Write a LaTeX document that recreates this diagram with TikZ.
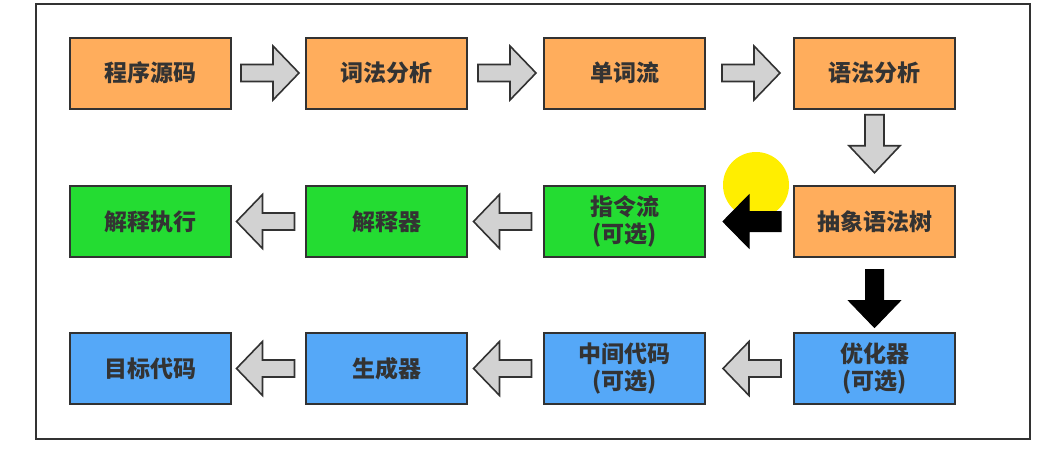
\documentclass[tikz,border=0pt]{standalone}
\usepackage{fontspec}
\newfontfamily\cjk{Noto Sans CJK SC}
\usetikzlibrary{calc}
\definecolor{orangeF}{RGB}{255,173,92}
\definecolor{greenF}{RGB}{36,220,50}
\definecolor{blueF}{RGB}{85,168,248}
\definecolor{grayF}{RGB}{210,210,210}
\definecolor{lineC}{RGB}{50,50,50}
\definecolor{textC}{RGB}{51,51,51}
\definecolor{yellowC}{RGB}{255,238,0}
% right-pointing block arrow: #1 from, #2 to, #3 style, #4 shift, #5 body half, #6 head half
\newcommand\blkR[6]{%
  \coordinate (m) at ($(#1.east)!0.5!(#2.west)+(#4,0)$);
  \draw[#3] ($(m)+(-29,-#5)$) -- ($(m)+(3,-#5)$) -- ($(m)+(3,-#6)$) -- ($(m)+(29,0)$)
    -- ($(m)+(3,#6)$) -- ($(m)+(3,#5)$) -- ($(m)+(-29,#5)$) -- cycle;}
\newcommand\blkL[6]{%
  \coordinate (m) at ($(#2.east)!0.5!(#1.west)+(#4,0)$);
  \draw[#3] ($(m)+(29,-#5)$) -- ($(m)+(-3,-#5)$) -- ($(m)+(-3,-#6)$) -- ($(m)+(-29,0)$)
    -- ($(m)+(-3,#6)$) -- ($(m)+(-3,#5)$) -- ($(m)+(29,#5)$) -- cycle;}
\newcommand\blkD[6]{%
  \coordinate (m) at ($(#1.south)!0.5!(#2.north)+(0,#4)$);
  \draw[#3] ($(m)+(-#5,-29)$) -- ($(m)+(-#5,2)$) -- ($(m)+(-#6,2)$) -- ($(m)+(0,29)$)
    -- ($(m)+(#6,2)$) -- ($(m)+(#5,2)$) -- ($(m)+(#5,-29)$) -- cycle;}
\begin{document}
\begin{tikzpicture}[x=1pt,y=-1pt,
  box/.style={draw=lineC,line width=2pt,minimum width=161pt,minimum height=71pt,
    inner sep=0pt,text=textC,align=center,
    font=\cjk\bfseries\fontsize{23}{27}\selectfont},
  obox/.style={box,fill=orangeF},
  gbox/.style={box,fill=greenF},
  bbox/.style={box,fill=blueF},
  garrow/.style={draw=lineC,line width=1.6pt,fill=grayF,line join=miter},
  karrow/.style={draw=black,line width=1pt,fill=black,line join=miter}]
\useasboundingbox (0,0) rectangle (1041,455);
\fill[white] (0,0) rectangle (1041,455);
\draw[lineC,line width=2pt] (36,4) rectangle (1030,439);
% row 1
\node[obox] (src) at (150.5,73) {程序源码};
\node[obox] (lex) at (386.5,73) {词法分析};
\node[obox] (tok) at (624.5,73) {单词流};
\node[obox] (par) at (874.5,73) {语法分析};
% row 2
\node[gbox] (exe) at (150.5,221.5) {解释执行};
\node[gbox] (itp) at (386.5,221.5) {解释器};
\node[gbox] (ins) at (624.5,221.5) {指令流\\(可选)};
\node[obox] (ast) at (874.5,221.5) {抽象语法树};
% row 3
\node[bbox] (tgt) at (150.5,368.5) {目标代码};
\node[bbox] (gen) at (386.5,368.5) {生成器};
\node[bbox] (mid) at (624.5,368.5) {中间代码\\(可选)};
\node[bbox] (opt) at (874.5,368.5) {优化器\\(可选)};
% cursor highlight
\fill[yellowC] (756,185) circle[radius=33];
% arrows
\blkR{src}{lex}{garrow}{1.5}{8.5}{27}
\blkR{lex}{tok}{garrow}{1.5}{8.5}{27}
\blkR{tok}{par}{garrow}{1.5}{8.5}{27}
\blkD{par}{ast}{garrow}{-3.5}{9.5}{25.5}
\blkL{ast}{ins}{karrow}{2.5}{10}{26.5}
\blkL{ins}{itp}{garrow}{-3}{8.5}{27}
\blkL{itp}{exe}{garrow}{-3}{8.5}{27}
\blkD{ast}{opt}{karrow}{3.5}{9}{26}
\blkL{opt}{mid}{garrow}{2.5}{8.5}{27}
\blkL{mid}{gen}{garrow}{-3}{8.5}{27}
\blkL{gen}{tgt}{garrow}{-3}{8.5}{27}
\end{tikzpicture}
\end{document}
